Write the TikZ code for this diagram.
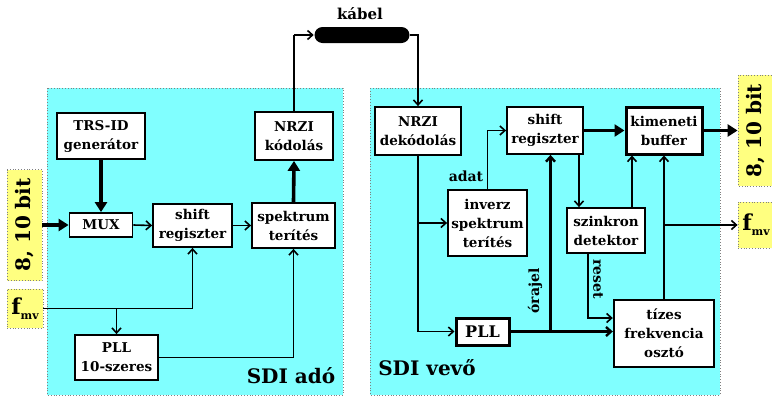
\documentclass[tikz,border=0pt]{standalone}
\usepackage{fontspec}
\setmainfont{DejaVu Serif}
\usetikzlibrary{arrows.meta}
\definecolor{panelcyan}{RGB}{128,255,255}
\definecolor{tagyellow}{RGB}{255,255,128}
\newcommand{\fmv}{{\fontsize{22}{22}\selectfont f}\raisebox{-5pt}{\fontsize{11}{11}\selectfont mv}}

\begin{document}
\begin{tikzpicture}[x=1pt, y=-1pt, line width=1.6pt,
    font=\bfseries\fontsize{13.5}{19}\selectfont,
    blk/.style={draw, fill=white, line width=1.8pt, align=center, inner sep=1pt},
    tag/.style={draw=gray, dotted, line width=0.8pt, fill=tagyellow, inner sep=1pt,
        font=\bfseries\fontsize{20}{22}\selectfont},
    thinarr/.style={line width=1.6pt, -{Straight Barb[length=5pt, width=9pt]}},
    fatarr/.style={line width=3.6pt, -{Triangle[length=10pt, width=12pt]}},
    biglbl/.style={font=\bfseries\fontsize{20}{22}\selectfont},
    smalllbl/.style={font=\bfseries\fontsize{14}{15}\selectfont}]
    \useasboundingbox (0,0) rectangle (772,397);
    % panels
    \filldraw[fill=panelcyan, draw=gray, dotted, line width=0.8pt] (47,88) rectangle (343,395);
    \filldraw[fill=panelcyan, draw=gray, dotted, line width=0.8pt] (370,88) rectangle (720,395);

    % SDI ado
    \node[blk, minimum width=88pt, minimum height=46pt] (trs) at (101,136) {TRS-ID\\generátor};
    \node[blk, minimum width=63pt, minimum height=24pt] (mux) at (101,225) {MUX};
    \node[blk, minimum width=79pt, minimum height=43pt] (shiftA) at (192.5,225.5) {shift\\regiszter};
    \node[blk, minimum width=83pt, minimum height=45pt] (spekA) at (293.5,225.5) {spektrum\\terítés};
    \node[blk, minimum width=78pt, minimum height=48pt] (nrziA) at (294,136) {NRZI\\kódolás};
    \node[blk, minimum width=83pt, minimum height=45pt] (pllA) at (116.5,357.5) {PLL\\10-szeres};
    \node[tag, rotate=90, minimum width=111pt, minimum height=35pt] (bitA) at (24.5,225) {8, 10 bit};
    \node[tag, minimum width=36pt, minimum height=39pt] (fA) at (25,308.5) {\fmv};
    \node[biglbl] (adolbl) at (291,376) {SDI adó};

    % kabel
    \node[fill=black, rounded corners=8pt, minimum width=95pt, minimum height=16pt, inner sep=0pt] (cable) at (362,35) {};
    \node[font=\bfseries\fontsize{15}{16}\selectfont] (kabel) at (360,14) {kábel};

    % SDI vevo
    \node[blk, minimum width=86pt, minimum height=48pt] (nrziB) at (418,131) {NRZI\\dekódolás};
    \node[blk, minimum width=76pt, minimum height=47pt] (shiftB) at (545,130.5) {shift\\regiszter};
    \node[blk, line width=3pt, minimum width=76pt, minimum height=47pt] (kim) at (664,130.5) {kimeneti\\buffer};
    \node[blk, minimum width=79pt, minimum height=66pt] (inv) at (487.5,223) {inverz\\spektrum\\terítés};
    \node[blk, minimum width=78pt, minimum height=45pt] (szink) at (606,230.5) {szinkron\\detektor};
    \node[blk, line width=3pt, minimum width=53pt, minimum height=27pt,
        font=\bfseries\fontsize{16}{18}\selectfont] (pllB) at (482.5,331.5) {PLL};
    \node[blk, line width=2.4pt, minimum width=100pt, minimum height=67pt] (tiz) at (664,333.5) {tízes\\frekvencia\\osztó};
    \node[tag, rotate=90, minimum width=111pt, minimum height=36pt] (bitB) at (756,130.5) {8, 10 bit};
    \node[tag, minimum width=36pt, minimum height=46pt] (fB) at (756,225) {\fmv};
    \node[biglbl] (vevolbl) at (427,368) {SDI vevő};
    \node[smalllbl] (adat) at (466,176) {adat};
    \node[smalllbl, rotate=90] (orajel) at (535,291) {órajel};
    \node[smalllbl, rotate=-90] (reset) at (598,279) {reset};

    % ado connectors
    \draw[fatarr] (bitA.south) -- (mux.west);
    \draw[fatarr] (trs.south) -- (mux.north);
    \draw[thinarr] (mux.east) -- (shiftA.west);
    \draw[thinarr] (shiftA.east) -- (spekA.west);
    \draw[fatarr] (spekA.north) -- (nrziA.south);
    \draw[thinarr] (fA.east) -| (shiftA.south);
    \draw[thinarr] (pllA.north |- fA.east) -- (pllA.north);
    \draw[thinarr] (pllA.east) -| (spekA.south);
    \draw[line width=2.6pt] (nrziA.north) -- (nrziA.north |- cable.west);
    \draw[thinarr] (nrziA.north |- cable.west) -- (cable.west);
    \draw[thinarr] (cable.east) -| (nrziB.north);

    % vevo connectors
    \draw[thinarr] (nrziB.south) |- (pllB.west);
    \draw[thinarr] (nrziB.south |- inv.west) -- (inv.west);
    \draw[thinarr] (inv.north) |- (shiftB.west);
    \draw[fatarr] (shiftB.east) -- (kim.west);
    \draw[fatarr] (kim.east) -- (bitB.north);
    \draw[thinarr] ([xshift=34pt]shiftB.south) -- ([xshift=34pt]shiftB.south |- szink.north);
    \draw[thinarr] ([xshift=26pt]szink.north) -- ([xshift=26pt]szink.north |- kim.south);
    \draw[thinarr, line width=2.4pt] (pllB.east) -- (pllB.east -| tiz.west);
    \draw[thinarr, line width=2.4pt] ([xshift=40pt]pllB.east) -- ([xshift=40pt]pllB.east |- shiftB.south);
    \draw[thinarr] ([xshift=-18pt]szink.south) |- ([yshift=15.5pt]tiz.west);
    \draw[thinarr] (tiz.north) -- (kim.south);
    \draw[thinarr] (tiz.north |- fB.west) -- (fB.west);
\end{tikzpicture}
\end{document}
